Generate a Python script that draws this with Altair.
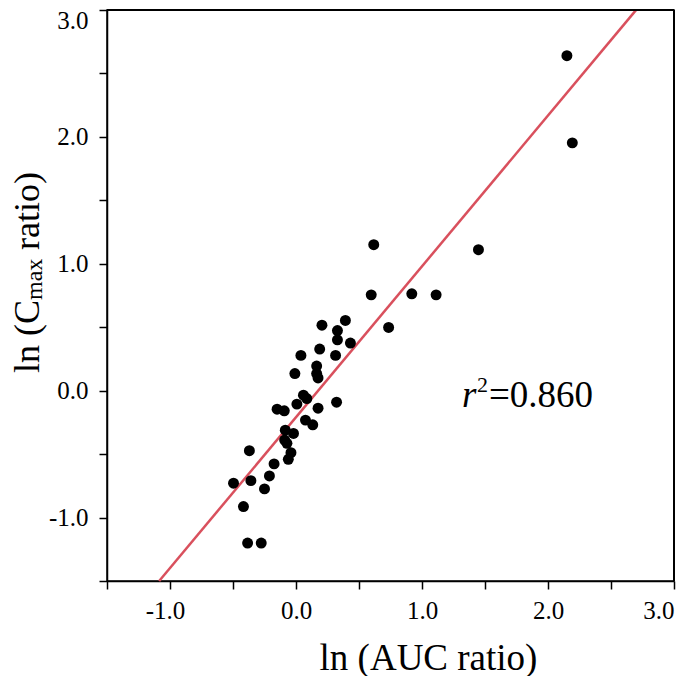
import altair as alt
import pandas as pd

# ---- data ----
AUC_LN = [0.617, 1.448, 0.597, 0.919, 1.112, 0.735, 0.206, 0.392, 0.329, 0.329,
          0.432, 0.188, 0.039, 0.314, 0.164, -0.009, 0.164, 0.175, 0.059, 0.086,
          0.007, 0.322, 0.175, -0.150, -0.093, 0.075, 0.133, -0.085, -0.020, -0.090,
          -0.072, -0.370, -0.040, -0.061, -0.174, -0.211, -0.358, -0.496, -0.250, -0.417,
          -0.384, -0.276, 2.150, 2.193]
CMAX_LN = [1.150, 1.111, 0.755, 0.763, 0.755, 0.498, 0.516, 0.553, 0.474, 0.401,
           0.375, 0.328, 0.278, 0.278, 0.194, 0.135, 0.135, 0.100, -0.036, -0.062,
           -0.106, -0.091, -0.138, -0.146, -0.159, -0.232, -0.269, -0.311, -0.337, -0.389,
           -0.415, -0.473, -0.489, -0.541, -0.577, -0.672, -0.709, -0.729, -0.774, -0.913,
           -1.201, -1.201, 2.640, 1.953]
FIT_SLOPE = 1.189
FIT_INTERCEPT = -0.209
FIT_X = [-1.086, 2.70]
TICKS = [-1.5, -1.0, -0.5, 0.0, 0.5, 1.0, 1.5, 2.0, 2.5, 3.0]
DOMAIN = [-1.5, 3.0]
X_TITLE = "ln (AUC ratio)"
Y_TITLE_PARTS = ["ln (C", "max", "ratio)"]
R2_PARTS = ["r", "2", "=0.860"]

FONT = "Liberation Serif"
RED = "#d9505d"

pts = pd.DataFrame({"x": AUC_LN, "y": CMAX_LN})
fit = pd.DataFrame({"x": FIT_X, "y": [FIT_INTERCEPT + FIT_SLOPE * v for v in FIT_X]})
frame = pd.DataFrame({"lo": [DOMAIN[0]], "hi": [DOMAIN[1]]})

label_expr = ("datum.value % 1 == 0 ? (datum.value < 0 ? '-' : '') + "
              "format(abs(datum.value), '.1f') : ''")

common_axis = dict(
    values=TICKS, labelExpr=label_expr, grid=False,
    labelFont=FONT, labelFontSize=25, labelColor="black",
    tickSize=8, tickWidth=1.5, tickColor="black",
    domainColor="black", domainWidth=1.5,
    labelOverlap=False, labelFlush=False,
)

x_axis = alt.Axis(
    title=X_TITLE, titleFont=FONT, titleFontSize=37, titleFontWeight="normal",
    titleColor="black", titleX=321, titleY=88, titleBaseline="alphabetic",
    titleAlign="center", labelPadding=9,
    labelOffset={"condition": {"test": "datum.value < 0", "value": -5}, "value": 0},
    labelAlign={"condition": {"test": "datum.value >= 3", "value": "right"}, "value": "center"},
    **common_axis,
)
y_axis = alt.Axis(
    title=None, labelPadding=11,
    labelOffset={"condition": {"test": "datum.value >= 3", "value": 10}, "value": 0},
    **common_axis,
)

xs = alt.Scale(domain=DOMAIN, nice=False, zero=False)
ys = alt.Scale(domain=DOMAIN, nice=False, zero=False)

points = alt.Chart(pts).mark_circle(size=120, color="black", opacity=1).encode(
    x=alt.X("x:Q", scale=xs, axis=x_axis),
    y=alt.Y("y:Q", scale=ys, axis=y_axis),
)

line = alt.Chart(fit).mark_line(color=RED, strokeWidth=2.5).encode(
    x=alt.X("x:Q", scale=xs),
    y=alt.Y("y:Q", scale=ys),
)

# frame lines on top and right, placed through the scales
top_rule = alt.Chart(frame).mark_rule(color="black", strokeWidth=2).encode(
    x=alt.X("lo:Q", scale=xs),
    x2="hi:Q",
    y=alt.Y("hi:Q", scale=ys),
)
right_rule = alt.Chart(frame).mark_rule(color="black", strokeWidth=2).encode(
    x=alt.X("hi:Q", scale=xs),
    y=alt.Y("lo:Q", scale=ys),
    y2="hi:Q",
)

def txt(s, x, y, size, angle=0, style="normal"):
    return alt.Chart(pd.DataFrame({"t": [s]})).mark_text(
        font=FONT, fontSize=size, fontStyle=style, color="black",
        align="left", baseline="alphabetic", angle=angle,
    ).encode(x=alt.value(x), y=alt.value(y), text="t:N")

ytitle = [
    txt(Y_TITLE_PARTS[0], -68, 363, 36, angle=270),
    txt(Y_TITLE_PARTS[1], -65, 290, 24, angle=270),
    txt(Y_TITLE_PARTS[2], -68, 240, 36, angle=270),
]
r2 = [
    txt(R2_PARTS[0], 355, 397, 37, style="italic"),
    txt(R2_PARTS[1], 370, 382, 22),
    txt(R2_PARTS[2], 382, 397, 37),
]

chart = alt.layer(line, points, top_rule, right_rule, *ytitle, *r2).properties(
    width=567, height=571,
    autosize=alt.AutoSizeParams(type="none"),
    padding={"left": 99, "top": 2, "right": 3, "bottom": 95},
    background="white",
).configure_view(stroke="black", strokeWidth=1.5)

chart.save("out.html", embed_options={"renderer": "svg", "actions": False})
